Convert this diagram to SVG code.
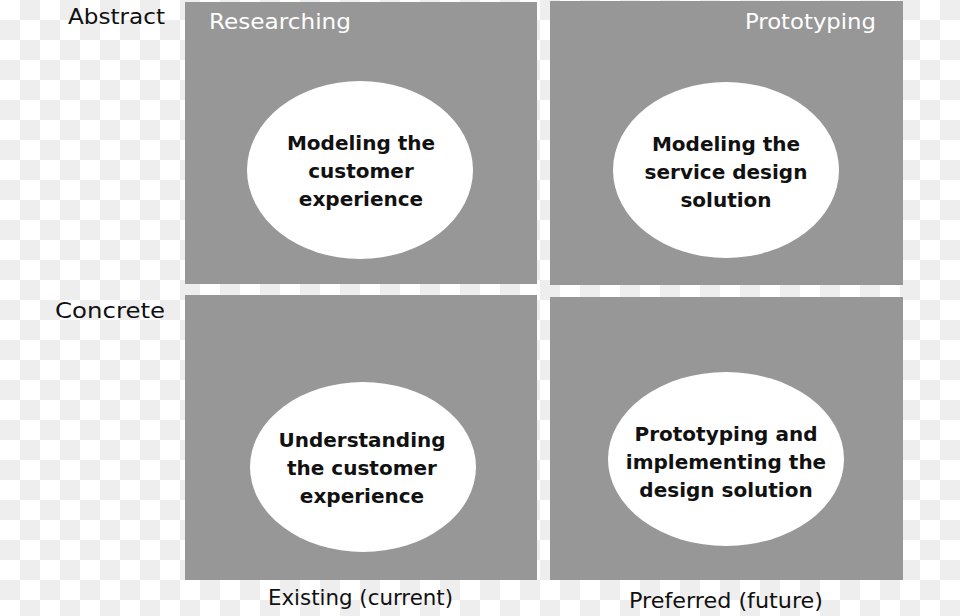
<svg xmlns="http://www.w3.org/2000/svg" width="960" height="616" viewBox="0 0 960 616">
<defs>
<pattern id="checker" x="0" y="0" width="40" height="40" patternUnits="userSpaceOnUse">
<rect width="40" height="40" fill="#ffffff"/>
<rect x="20" y="0" width="20" height="20" fill="#eeeeee"/>
<rect x="0" y="20" width="20" height="20" fill="#eeeeee"/>
</pattern>
<style>
.box{fill:#979797;}
.oval{fill:#ffffff;}
.lbl{font-family:"DejaVu Sans",sans-serif;font-size:21px;fill:#111;}
.hdr{font-family:"DejaVu Sans",sans-serif;font-size:21px;fill:#ffffff;}
.in{font-family:"DejaVu Sans",sans-serif;font-weight:bold;font-size:20px;fill:#111;text-anchor:middle;}
</style>
</defs>
<rect width="960" height="616" fill="url(#checker)"/>
<g id="axis-labels">
<text class="lbl" x="68" y="24" textLength="97" lengthAdjust="spacingAndGlyphs">Abstract</text>
<text class="lbl" x="55" y="318" textLength="110" lengthAdjust="spacingAndGlyphs">Concrete</text>
<text class="lbl" x="268" y="605" textLength="185" lengthAdjust="spacingAndGlyphs">Existing (current)</text>
<text class="lbl" x="629" y="608" textLength="194" lengthAdjust="spacingAndGlyphs">Preferred (future)</text>
</g>
<g id="q-researching">
<rect class="box" x="185" y="2" width="352" height="282"/>
<text class="hdr" x="209" y="29" textLength="142" lengthAdjust="spacingAndGlyphs">Researching</text>
<ellipse class="oval" cx="360" cy="170" rx="113" ry="89"/>
<text class="in" x="361" y="150">Modeling the</text>
<text class="in" x="361" y="178">customer</text>
<text class="in" x="361" y="206">experience</text>
</g>
<g id="q-prototyping">
<rect class="box" x="550" y="1" width="353" height="284"/>
<text class="hdr" x="745" y="29" textLength="131" lengthAdjust="spacingAndGlyphs">Prototyping</text>
<ellipse class="oval" cx="726" cy="170" rx="113" ry="88"/>
<text class="in" x="726" y="151">Modeling the</text>
<text class="in" x="726" y="179">service design</text>
<text class="in" x="726" y="207">solution</text>
</g>
<g id="q-understanding">
<rect class="box" x="185" y="295" width="352" height="285"/>
<ellipse class="oval" cx="363" cy="467" rx="113" ry="85"/>
<text class="in" x="362" y="447">Understanding</text>
<text class="in" x="362" y="475">the customer</text>
<text class="in" x="362" y="503">experience</text>
</g>
<g id="q-implementing">
<rect class="box" x="550" y="297" width="353" height="283"/>
<ellipse class="oval" cx="726" cy="459" rx="118" ry="87"/>
<text class="in" x="726" y="441">Prototyping and</text>
<text class="in" x="726" y="469">implementing the</text>
<text class="in" x="726" y="497">design solution</text>
</g>
<g id="connectors"/>
</svg>
